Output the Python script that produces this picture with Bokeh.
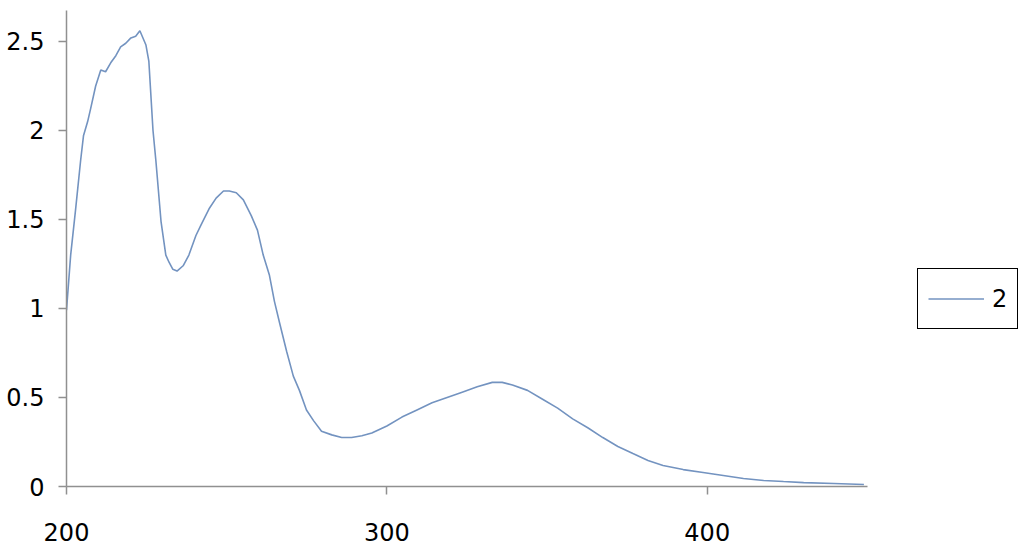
from bokeh.plotting import figure
from bokeh.models import FixedTicker, Range1d, Legend, LegendItem
from bokeh.embed import file_html
from bokeh.resources import INLINE

wavelength = [200, 201.3, 202.8, 204.4, 205.3, 206.6, 207.5, 209.1, 210.7, 212.2, 213.8, 215.4,
              216.9, 218.5, 220.1, 221.6, 222.9, 224.8, 225.7, 227.0, 227.9, 229.5, 231.0,
              232.0, 233.2, 234.5, 236.4, 238.2, 240.4, 242.0, 244.5, 246.7, 249.0, 250.8,
              253.0, 255.2, 257.7, 259.6, 261.4, 263.3, 264.9, 266.5, 268.7, 270.8, 272.7,
              274.9, 277.1, 279.6, 282.8, 285.9, 289.0, 292.2, 295.3, 300.0, 304.7, 309.4,
              314.1, 318.8, 323.5, 328.2, 332.9, 336.0, 339.2, 343.9, 348.6, 353.3, 358.0,
              362.7, 367.4, 372.1, 376.8, 381.5, 386.2, 392.5, 398.7, 405.0, 411.3, 417.6,
              423.8, 430.1, 439.5, 448.9]
absorbance = [0.99, 1.30, 1.55, 1.83, 1.97, 2.05, 2.12, 2.25, 2.34, 2.33, 2.38, 2.42,
              2.47, 2.49, 2.52, 2.53, 2.56, 2.48, 2.39, 2.00, 1.83, 1.49, 1.30,
              1.26, 1.22, 1.21, 1.24, 1.30, 1.41, 1.47, 1.56, 1.62, 1.66, 1.66,
              1.65, 1.61, 1.52, 1.44, 1.30, 1.19, 1.04, 0.92, 0.76, 0.62, 0.54,
              0.43, 0.37, 0.31, 0.29, 0.275, 0.275, 0.285, 0.30, 0.34, 0.39, 0.43,
              0.47, 0.50, 0.53, 0.56, 0.585, 0.585, 0.57, 0.54, 0.49, 0.44, 0.38,
              0.33, 0.275, 0.225, 0.185, 0.146, 0.118, 0.095, 0.079, 0.062, 0.045, 0.034,
              0.028, 0.022, 0.017, 0.011]
series_name = "2"
x_ticks = [200, 300, 400]
x_axis_bounds = (200, 450)
y_ticks = [0, 0.5, 1, 1.5, 2, 2.5]
y_tick_labels = ["0", "0.5", "1", "1.5", "2", "2.5"]

FONT = "DejaVu Sans"
AXIS_COLOR = "#909090"
LINE_COLOR = "#7393c0"

p = figure(width=1022, height=550, output_backend="svg", toolbar_location=None,
           x_range=Range1d(200, 498.4), y_range=Range1d(0, 2.674),
           min_border_left=66, min_border_right=0, min_border_top=10, min_border_bottom=64)
p.outline_line_color = None
p.xgrid.visible = False
p.ygrid.visible = False
p.background_fill_color = "white"
p.border_fill_color = "white"

r = p.line(wavelength, absorbance, line_color=LINE_COLOR, line_width=1.6)

p.xaxis.ticker = FixedTicker(ticks=x_ticks)
p.xaxis.bounds = x_axis_bounds
p.yaxis.ticker = FixedTicker(ticks=y_ticks)
p.yaxis.major_label_overrides = {t: l for t, l in zip(y_ticks, y_tick_labels)}
for ax in (p.xaxis[0], p.yaxis[0]):
    ax.axis_line_color = AXIS_COLOR
    ax.axis_line_width = 1.5
    ax.major_tick_line_color = AXIS_COLOR
    ax.major_tick_line_width = 1.5
    ax.major_tick_in = 0
    ax.major_tick_out = 8
    ax.minor_tick_line_color = None
    ax.major_label_text_font = FONT
    ax.major_label_text_font_size = "24px"
    ax.major_label_text_color = "black"
p.xaxis.major_label_standoff = 28
p.yaxis.major_label_standoff = 14

legend = Legend(items=[LegendItem(label=series_name, renderers=[r])],
                location=(851, 157), label_text_font=FONT, label_text_font_size="24px",
                label_text_color="black",
                border_line_color="black", border_line_width=1.5, border_line_alpha=1,
                glyph_width=56, label_width=15, padding=10, margin=0, label_standoff=8,
                label_height=39, glyph_height=39, spacing=0)
p.add_layout(legend, "center")

open("out.html", "w").write(file_html(p, INLINE))
